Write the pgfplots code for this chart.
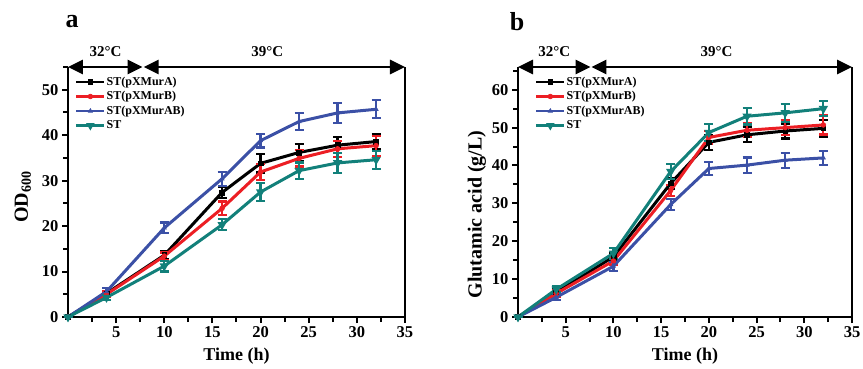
\documentclass[border=0pt]{standalone}
\usepackage{fontspec}
\setmainfont{Liberation Serif}
\usepackage{pgfplots}
\pgfplotsset{compat=1.18}
\usetikzlibrary{arrows.meta}
\definecolor{cRed}{RGB}{236,30,36}
\definecolor{cBlu}{RGB}{59,80,166}
\definecolor{cTeal}{RGB}{18,128,122}

\pgfplotsset{
  panel/.style={
    scale only axis, width=337pt, height=250pt,
    xmin=0, xmax=35, ymin=0,
    clip=false,
    axis x line*=bottom, axis y line*=left,
    axis line style={line width=2.4pt, -},
    tick align=outside,
    xtick={5,10,...,35}, minor xtick={2.5,7.5,...,32.5},
    major tick length=6pt, minor tick length=5pt,
    every tick/.style={line width=2pt, black},
    ticklabel style={font=\bfseries\fontsize{16.5}{16.5}\selectfont},
    /pgf/number format/assume math mode=true,
    xlabel={Time (h)},
    xlabel style={font=\bfseries\fontsize{18}{18}\selectfont, at={(axis description cs:0.5,-0.156)}, anchor=center},
    legend cell align=left,
    legend style={draw=none, fill=none, anchor=north west, inner sep=0pt, outer sep=0pt,
      font=\bfseries\fontsize{12}{12}\selectfont, row sep=0.5pt,
      nodes={inner sep=1pt, text height=9pt, text depth=3pt}},
    legend image code/.code={\draw[mark repeat=2, mark phase=2, ##1, line width=2.6pt] plot coordinates {(0pt,0pt) (14pt,0pt) (28pt,0pt)};},
  },
  eb/.style={line width=3pt, mark size=2.4pt, mark options={solid, line width=0.6pt},
    error bars/y dir=both, error bars/y explicit,
    error bars/error bar style={line width=2.2pt},
    error bars/error mark options={rotate=90, mark size=4.5pt, line width=2.2pt}},
}

\begin{document}
\begin{tikzpicture}
\useasboundingbox (0,0) rectangle (863pt,368pt);

% ---------------- Panel a ----------------
\begin{axis}[panel, at={(68pt,51pt)}, anchor=south west,
  ymax=55, ytick={0,10,...,50}, minor ytick={5,15,...,55},
  ylabel={OD$_{\mathbf{600}}$},
  ylabel style={font=\bfseries\fontsize{20}{20}\selectfont, at={(axis description cs:-0.134,0.48)}, anchor=center},
  legend style={at={(axis description cs:0.021,0.968)}},
]
\addplot[eb, black, mark=square*] table[x=t, y=v, y error=e] {
t v e
0 0 0
4 5.2 0.6
10 13.6 0.8
16 27.4 1.2
20 33.8 2.0
24 36.2 1.8
28 37.8 1.8
32 38.6 1.6
};
\addlegendentry{ST(pXMurA)}
\addplot[eb, cRed, mark=*] table[x=t, y=v, y error=e] {
t v e
0 0 0
4 5.0 0.6
10 13.4 0.8
16 23.9 1.5
20 31.9 1.8
24 34.9 1.8
28 37.0 1.8
32 37.7 2.2
};
\addlegendentry{ST(pXMurB)}
\addplot[eb, cBlu, mark=triangle*] table[x=t, y=v, y error=e] {
t v e
0 0 0
4 5.6 0.8
10 19.6 1.2
16 30.4 1.5
20 38.8 1.5
24 43.0 1.8
28 44.9 2.2
32 45.7 2.0
};
\addlegendentry{ST(pXMurAB)}
\addplot[eb, cTeal, mark=triangle*, mark options={rotate=180}] table[x=t, y=v, y error=e] {
t v e
0 0 0
4 4.3 0.6
10 11.2 1.2
16 20.3 1.2
20 27.5 2.0
24 32.2 1.8
28 33.9 2.2
32 34.6 2.0
};
\addlegendentry{ST}
\draw[line width=2.4pt] (rel axis cs:1,0) -- (rel axis cs:1,1);
\draw[line width=2.8pt, {Triangle[length=15pt,width=14pt]}-{Triangle[length=15pt,width=14pt]}] (axis cs:0,55) -- (axis cs:7.75,55);
\draw[line width=2.8pt, {Triangle[length=15pt,width=14pt]}-{Triangle[length=15pt,width=14pt]}] (axis cs:7.85,55) -- (axis cs:35,55);
\node[font=\bfseries\fontsize{15}{15}\selectfont] at (axis cs:3.9,58.3) {32°C};
\node[font=\bfseries\fontsize{15}{15}\selectfont] at (axis cs:20.7,58.3) {39°C};
\end{axis}

% ---------------- Panel b ----------------
\begin{axis}[panel, at={(518pt,51pt)}, anchor=south west, width=334pt,
  ymax=66, ytick={0,10,...,60}, minor ytick={5,15,...,65},
  ylabel={Glutamic acid (g/L)},
  ylabel style={font=\bfseries\fontsize{20}{20}\selectfont, at={(axis description cs:-0.123,0.41)}, anchor=center},
  legend style={at={(axis description cs:0.051,0.968)}},
]
\addplot[eb, black, mark=square*] table[x=t, y=v, y error=e] {
t v e
0 0 0
4 6.5 0.8
10 15.9 1.0
16 35.3 1.5
20 46.1 2.0
24 48.1 2.0
28 49.1 2.0
32 49.8 2.2
};
\addlegendentry{ST(pXMurA)}
\addplot[eb, cRed, mark=*] table[x=t, y=v, y error=e] {
t v e
0 0 0
4 6.2 0.8
10 14.8 1.0
16 33.4 1.5
20 47.4 1.8
24 49.3 1.8
28 50.0 2.0
32 50.7 2.5
};
\addlegendentry{ST(pXMurB)}
\addplot[eb, cBlu, mark=triangle*] table[x=t, y=v, y error=e] {
t v e
0 0 0
4 5.2 0.8
10 13.4 1.2
16 29.7 1.5
20 39.2 1.8
24 40.1 2.0
28 41.4 2.0
32 42.0 1.8
};
\addlegendentry{ST(pXMurAB)}
\addplot[eb, cTeal, mark=triangle*, mark options={rotate=180}] table[x=t, y=v, y error=e] {
t v e
0 0 0
4 7.3 0.8
10 16.8 1.5
16 38.4 2.0
20 48.7 2.2
24 53.0 2.2
28 53.9 2.4
32 55.0 2.0
};
\addlegendentry{ST}
\draw[line width=2.4pt] (rel axis cs:1,0) -- (rel axis cs:1,1);
\draw[line width=2.8pt, {Triangle[length=15pt,width=14pt]}-{Triangle[length=15pt,width=14pt]}] (axis cs:0,66) -- (axis cs:7.6,66);
\draw[line width=2.8pt, {Triangle[length=15pt,width=14pt]}-{Triangle[length=15pt,width=14pt]}] (axis cs:7.7,66) -- (axis cs:35,66);
\node[font=\bfseries\fontsize{15}{15}\selectfont] at (axis cs:3.8,70) {32°C};
\node[font=\bfseries\fontsize{15}{15}\selectfont] at (axis cs:20.8,70) {39°C};
\end{axis}

\node[font=\bfseries\fontsize{26}{26}\selectfont] at (72pt,346pt) {a};
\node[font=\bfseries\fontsize{26}{26}\selectfont] at (517pt,346pt) {b};
\end{tikzpicture}
\end{document}
